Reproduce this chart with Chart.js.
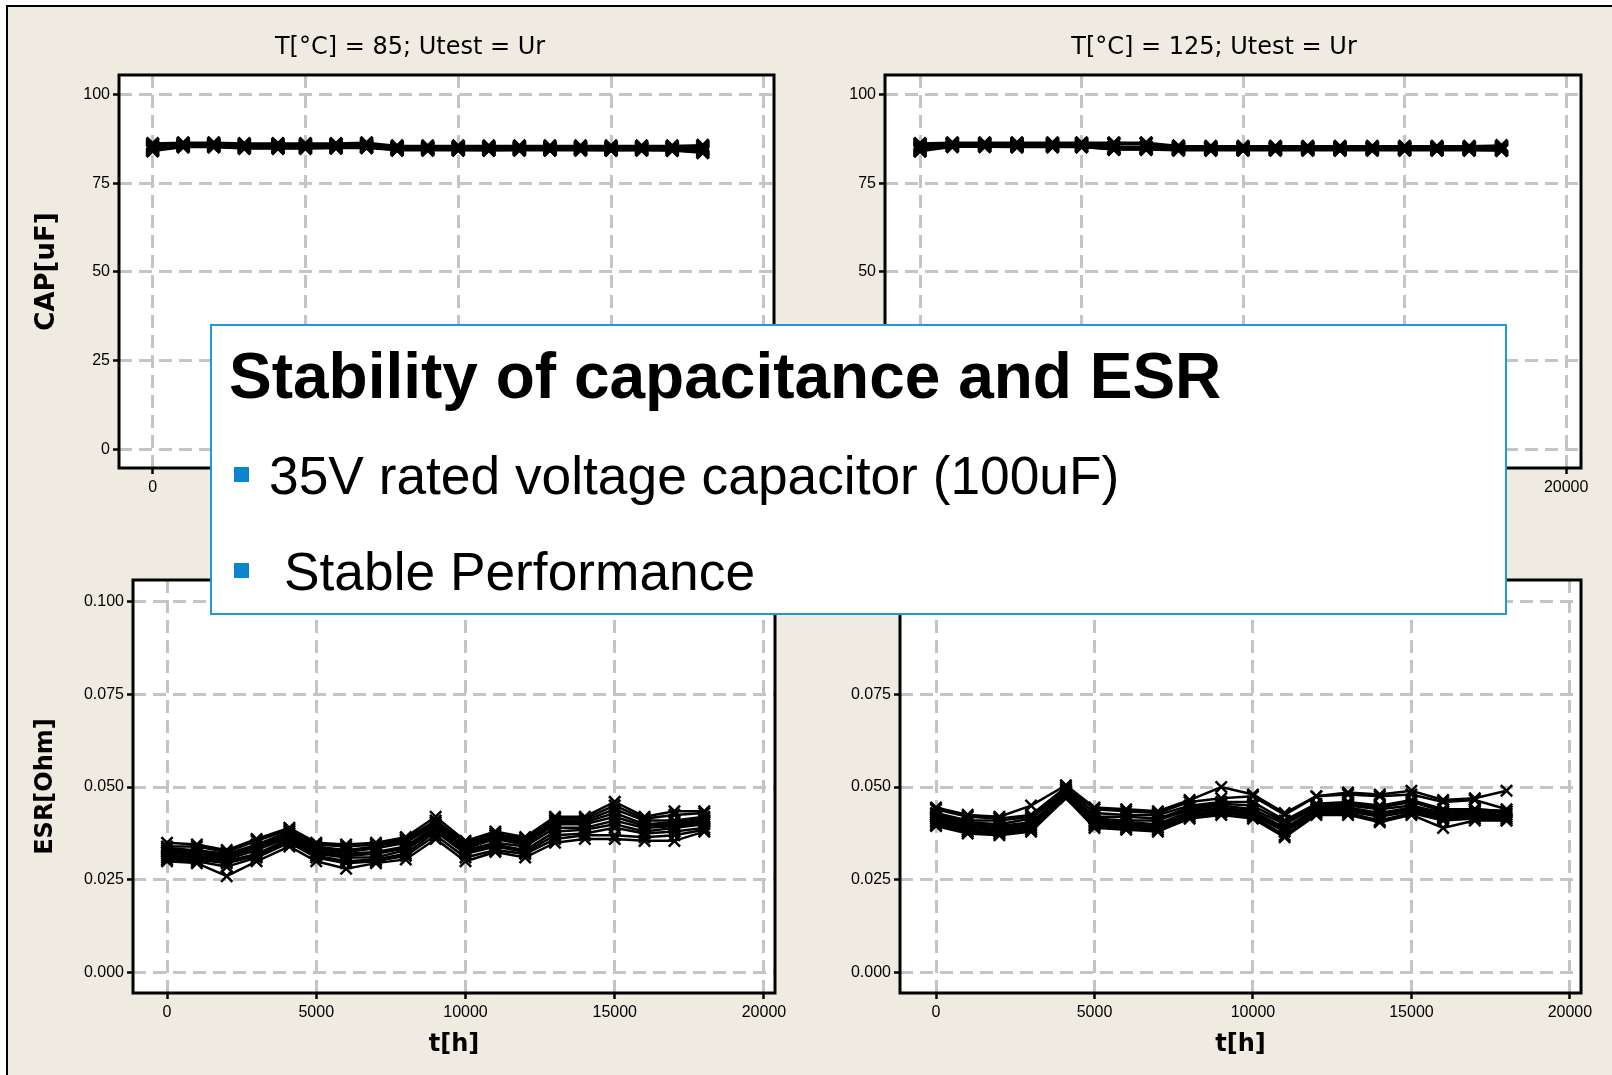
<!DOCTYPE html>
<html>
<head>
<meta charset="utf-8">
<script src="https://cdn.jsdelivr.net/npm/chart.js@4.4.1/dist/chart.umd.min.js"></script>
<style>
  html, body { margin: 0; padding: 0; background: #fff; }
  body { width: 1612px; height: 1075px; position: relative; overflow: hidden; }
  #slide { position: absolute; left: 6px; top: 5px; right: 0; bottom: 0; background: #efebe1;
           border-top: 2px solid #000; border-left: 2px solid #000; }
  canvas { position: absolute; }
  #capLeft { left: 20px; top: 20px; }
  #capRight { left: 820px; top: 20px; }
  #esrLeft { left: 20px; top: 560px; }
  #esrRight { left: 820px; top: 560px; }
  .note { position: absolute; left: 210px; top: 324px; width: 1297px; height: 291px; box-sizing: border-box;
          background: #fff; border: 2px solid #1f9ad6; font-family: "Liberation Sans", Arial, sans-serif; color: #000; }
  .note div { position: absolute; white-space: nowrap; }
  .note .head { left: 17px; top: 18px; font-size: 64px; line-height: 64px; font-weight: bold; }
  .note .line { font-size: 53.3px; line-height: 53px; }
  .note .dot { width: 15px; height: 15px; background: #0a86cc; left: 22px; }
</style>
</head>
<body>
<div id="slide"></div>
<canvas id="capLeft" width="780" height="490"></canvas>
<canvas id="capRight" width="788" height="490"></canvas>
<canvas id="esrLeft" width="780" height="510"></canvas>
<canvas id="esrRight" width="788" height="510"></canvas>

<div class="note">
  <div class="head">Stability of capacitance and ESR</div>
  <div class="dot" style="top:141px"></div>
  <div class="line" style="left:57px; top:123px">35V rated voltage capacitor (100uF)</div>
  <div class="dot" style="top:237px"></div>
  <div class="line" style="left:72px; top:219px">Stable Performance</div>
</div>

<script>
// test time in hours, same for every sample
const hours = [0, 1000, 2000, 3000, 4100, 5000, 6000, 7000, 8000, 9000, 10000, 11000, 12000, 13000, 14000, 15000, 16000, 17000, 18000];

const timeTicks = [0, 5000, 10000, 15000, 20000];
const capTicks = [0, 25, 50, 75, 100];
const esrTicks = [0, 0.025, 0.05, 0.075, 0.1];

// capacitance [uF], T = 85 C
const cap85 = [
    [86.2, 86.4, 86.4, 86.2, 86.2, 86.2, 86.2, 86.4, 85.5, 85.5, 85.5, 85.5, 85.5, 85.5, 85.5, 85.5, 85.5, 85.5, 85.7],
    [85.9, 86.1, 86.1, 85.9, 86.0, 85.9, 85.9, 86.1, 85.3, 85.2, 85.3, 85.2, 85.3, 85.2, 85.3, 85.2, 85.2, 85.3, 85.3],
    [85.6, 86.0, 86.0, 85.7, 85.8, 85.7, 85.8, 85.9, 85.1, 85.1, 85.1, 85.1, 85.1, 85.1, 85.1, 85.1, 85.1, 85.1, 85.1],
    [85.3, 85.9, 85.9, 85.6, 85.6, 85.6, 85.6, 85.7, 85.0, 84.9, 85.0, 84.9, 85.0, 84.9, 84.9, 85.0, 84.9, 84.9, 84.9],
    [85.1, 85.8, 85.8, 85.5, 85.5, 85.5, 85.5, 85.6, 84.9, 84.9, 84.9, 84.9, 84.9, 84.9, 84.9, 84.9, 84.9, 84.9, 84.7],
    [84.9, 85.7, 85.7, 85.3, 85.4, 85.4, 85.4, 85.5, 84.8, 84.8, 84.8, 84.8, 84.8, 84.8, 84.8, 84.8, 84.8, 84.8, 84.5],
    [84.7, 85.6, 85.6, 85.2, 85.2, 85.2, 85.3, 85.4, 84.7, 84.7, 84.7, 84.7, 84.7, 84.7, 84.7, 84.7, 84.7, 84.7, 84.3],
    [84.5, 85.4, 85.4, 85.0, 85.0, 85.0, 85.1, 85.2, 84.5, 84.5, 84.5, 84.5, 84.5, 84.6, 84.5, 84.5, 84.5, 84.5, 84.1],
    [84.3, 85.3, 85.3, 84.9, 84.9, 84.9, 85.0, 85.1, 84.4, 84.4, 84.4, 84.3, 84.4, 84.4, 84.4, 84.3, 84.4, 84.3, 83.8],
    [84.1, 85.2, 85.2, 84.8, 84.8, 84.8, 84.9, 85.0, 84.3, 84.3, 84.3, 84.3, 84.3, 84.3, 84.3, 84.3, 84.3, 84.2, 83.6]
];

// capacitance [uF], T = 125 C
const cap125 = [
    [86.2, 86.4, 86.4, 86.4, 86.4, 86.4, 86.4, 86.4, 85.5, 85.4, 85.4, 85.4, 85.4, 85.4, 85.4, 85.4, 85.4, 85.4, 85.6],
    [85.9, 86.2, 86.2, 86.2, 86.2, 86.2, 86.1, 86.2, 85.3, 85.2, 85.2, 85.2, 85.2, 85.2, 85.2, 85.2, 85.2, 85.2, 85.3],
    [85.7, 86.1, 86.1, 86.1, 86.1, 86.1, 86.0, 86.1, 85.1, 85.1, 85.1, 85.1, 85.1, 85.1, 85.1, 85.1, 85.1, 85.1, 85.2],
    [85.4, 86.0, 86.0, 85.9, 85.9, 85.9, 85.3, 85.3, 85.0, 84.9, 85.0, 84.9, 85.0, 84.9, 85.0, 84.9, 84.9, 85.0, 85.0],
    [85.2, 85.9, 85.9, 85.8, 85.8, 85.8, 85.1, 85.1, 84.9, 84.9, 84.9, 84.9, 84.9, 84.9, 84.9, 84.9, 84.9, 84.9, 84.9],
    [85.0, 85.8, 85.8, 85.7, 85.7, 85.7, 85.0, 85.0, 84.8, 84.8, 84.8, 84.8, 84.8, 84.8, 84.8, 84.8, 84.8, 84.8, 84.8],
    [84.8, 85.7, 85.7, 85.6, 85.6, 85.6, 84.9, 84.9, 84.7, 84.7, 84.7, 84.7, 84.7, 84.7, 84.7, 84.7, 84.7, 84.7, 84.6],
    [84.5, 85.5, 85.5, 85.4, 85.4, 85.4, 84.7, 84.7, 84.5, 84.5, 84.5, 84.5, 84.5, 84.5, 84.5, 84.5, 84.5, 84.5, 84.4],
    [84.3, 85.4, 85.4, 85.3, 85.3, 85.3, 84.6, 84.6, 84.4, 84.4, 84.4, 84.4, 84.4, 84.4, 84.4, 84.4, 84.4, 84.4, 84.3],
    [84.0, 85.3, 85.3, 85.2, 85.2, 85.2, 84.5, 84.5, 84.3, 84.3, 84.3, 84.3, 84.3, 84.3, 84.3, 84.3, 84.3, 84.3, 84.2]
];

// ESR [Ohm], T = 85 C
const esr85 = [
    [0.0350, 0.0345, 0.0330, 0.0360, 0.0390, 0.0350, 0.0345, 0.0350, 0.0365, 0.0420, 0.0355, 0.0380, 0.0365, 0.0420, 0.0420, 0.0460, 0.0420, 0.0435, 0.0435],
    [0.0340, 0.0340, 0.0325, 0.0355, 0.0385, 0.0345, 0.0340, 0.0345, 0.0360, 0.0410, 0.0350, 0.0375, 0.0360, 0.0415, 0.0415, 0.0450, 0.0415, 0.0425, 0.0430],
    [0.0335, 0.0330, 0.0320, 0.0345, 0.0380, 0.0340, 0.0330, 0.0340, 0.0355, 0.0405, 0.0345, 0.0370, 0.0355, 0.0410, 0.0410, 0.0440, 0.0410, 0.0410, 0.0420],
    [0.0330, 0.0325, 0.0315, 0.0340, 0.0375, 0.0335, 0.0325, 0.0335, 0.0350, 0.0400, 0.0340, 0.0365, 0.0350, 0.0405, 0.0405, 0.0430, 0.0400, 0.0405, 0.0415],
    [0.0325, 0.0320, 0.0310, 0.0335, 0.0370, 0.0330, 0.0320, 0.0325, 0.0340, 0.0395, 0.0335, 0.0360, 0.0345, 0.0400, 0.0400, 0.0420, 0.0395, 0.0400, 0.0410],
    [0.0320, 0.0315, 0.0305, 0.0330, 0.0365, 0.0325, 0.0315, 0.0320, 0.0335, 0.0390, 0.0330, 0.0350, 0.0340, 0.0390, 0.0390, 0.0410, 0.0390, 0.0395, 0.0405],
    [0.0315, 0.0310, 0.0300, 0.0320, 0.0360, 0.0320, 0.0310, 0.0310, 0.0330, 0.0385, 0.0325, 0.0345, 0.0330, 0.0380, 0.0385, 0.0400, 0.0380, 0.0390, 0.0400],
    [0.0310, 0.0305, 0.0295, 0.0315, 0.0355, 0.0315, 0.0300, 0.0305, 0.0320, 0.0380, 0.0320, 0.0340, 0.0325, 0.0370, 0.0375, 0.0390, 0.0375, 0.0380, 0.0390],
    [0.0305, 0.0300, 0.0285, 0.0310, 0.0350, 0.0310, 0.0295, 0.0300, 0.0315, 0.0370, 0.0310, 0.0330, 0.0320, 0.0360, 0.0370, 0.0370, 0.0365, 0.0370, 0.0385],
    [0.0300, 0.0295, 0.0260, 0.0300, 0.0340, 0.0300, 0.0280, 0.0295, 0.0305, 0.0360, 0.0300, 0.0325, 0.0310, 0.0350, 0.0360, 0.0360, 0.0355, 0.0355, 0.0380]
];

// ESR [Ohm], T = 125 C
const esr125 = [
    [0.0445, 0.0425, 0.0420, 0.0450, 0.0505, 0.0445, 0.0440, 0.0435, 0.0465, 0.0500, 0.0480, 0.0430, 0.0475, 0.0485, 0.0480, 0.0490, 0.0465, 0.0470, 0.0490],
    [0.0440, 0.0420, 0.0415, 0.0425, 0.0500, 0.0440, 0.0435, 0.0430, 0.0460, 0.0470, 0.0475, 0.0425, 0.0475, 0.0480, 0.0475, 0.0480, 0.0460, 0.0465, 0.0440],
    [0.0430, 0.0410, 0.0410, 0.0420, 0.0495, 0.0430, 0.0425, 0.0425, 0.0450, 0.0460, 0.0460, 0.0410, 0.0455, 0.0460, 0.0450, 0.0465, 0.0440, 0.0440, 0.0435],
    [0.0425, 0.0405, 0.0400, 0.0415, 0.0490, 0.0420, 0.0420, 0.0415, 0.0445, 0.0455, 0.0450, 0.0405, 0.0450, 0.0455, 0.0445, 0.0460, 0.0435, 0.0440, 0.0435],
    [0.0420, 0.0400, 0.0395, 0.0405, 0.0485, 0.0415, 0.0410, 0.0410, 0.0440, 0.0450, 0.0440, 0.0400, 0.0445, 0.0450, 0.0440, 0.0450, 0.0430, 0.0435, 0.0430],
    [0.0415, 0.0395, 0.0390, 0.0400, 0.0485, 0.0410, 0.0405, 0.0400, 0.0435, 0.0445, 0.0435, 0.0390, 0.0440, 0.0445, 0.0430, 0.0445, 0.0425, 0.0430, 0.0425],
    [0.0410, 0.0390, 0.0385, 0.0395, 0.0480, 0.0405, 0.0400, 0.0395, 0.0430, 0.0440, 0.0430, 0.0385, 0.0435, 0.0440, 0.0425, 0.0440, 0.0420, 0.0425, 0.0420],
    [0.0405, 0.0385, 0.0380, 0.0390, 0.0480, 0.0400, 0.0395, 0.0390, 0.0425, 0.0435, 0.0425, 0.0380, 0.0430, 0.0435, 0.0420, 0.0435, 0.0415, 0.0420, 0.0415],
    [0.0400, 0.0380, 0.0375, 0.0385, 0.0475, 0.0395, 0.0390, 0.0385, 0.0420, 0.0430, 0.0420, 0.0370, 0.0430, 0.0430, 0.0410, 0.0430, 0.0410, 0.0415, 0.0410],
    [0.0395, 0.0375, 0.0370, 0.0380, 0.0470, 0.0390, 0.0385, 0.0380, 0.0415, 0.0425, 0.0415, 0.0365, 0.0425, 0.0425, 0.0405, 0.0425, 0.0390, 0.0410, 0.0410]
];

Chart.defaults.font.family = "'Liberation Sans', Arial, sans-serif";
Chart.defaults.font.size = 16;
Chart.defaults.color = "#000";

// white plot area + black frame round it
const framePlugin = {
    id: "frame",
    beforeDraw(chart) {
        const { ctx, chartArea: a } = chart;
        ctx.save();
        ctx.fillStyle = "#fff";
        ctx.fillRect(a.left, a.top, a.right - a.left, a.bottom - a.top);
        ctx.restore();
    },
    afterDraw(chart) {
        const { ctx, chartArea: a } = chart;
        ctx.save();
        ctx.strokeStyle = "#000";
        ctx.lineWidth = 3;
        ctx.strokeRect(a.left, a.top, a.right - a.left, a.bottom - a.top);
        ctx.restore();
    }
};

const gridOpts = { color: "#c4c4c4", lineWidth: 3, tickColor: "#000", tickLength: 6, tickWidth: 2.5 };
const borderOpts = { display: false, dash: [13, 7] };
const axisTitleFont = { family: "'DejaVu Sans'", size: 24, weight: "bold" };

const makeChart = (canvasId, cfg) => {
    const datasets = cfg.series.map(vals => ({
        data: hours.map((h, i) => ({ x: h, y: vals[i] })),
        borderColor: "#000",
        borderWidth: 2.5,
        pointStyle: "crossRot",
        pointRadius: cfg.markSize,
        pointBorderWidth: cfg.markWidth,
        pointBorderColor: "#000",
        fill: false,
        tension: 0
    }));
    return new Chart(document.getElementById(canvasId), {
        type: "line",
        data: { datasets },
        options: {
            responsive: false,
            animation: false,
            events: [],
            layout: { padding: { top: cfg.padTop || 0 } },
            plugins: {
                legend: { display: false },
                tooltip: { enabled: false },
                title: {
                    display: !!cfg.title,
                    text: cfg.title,
                    color: "#000",
                    font: { family: "'DejaVu Sans'", size: 24, weight: "normal" },
                    padding: { top: 13.6, bottom: 12.6 }
                }
            },
            scales: {
                x: {
                    type: "linear",
                    min: cfg.xMin,
                    max: cfg.xMax,
                    afterBuildTicks: s => { s.ticks = timeTicks.map(v => ({ value: v })); },
                    afterFit: s => { s.height = cfg.xHeight; },
                    grid: gridOpts,
                    border: borderOpts,
                    ticks: { padding: 4, maxRotation: 0, callback: v => String(v) },
                    title: {
                        display: !!cfg.xTitle,
                        text: cfg.xTitle,
                        font: axisTitleFont,
                        padding: { top: 0, bottom: 10.5 }
                    }
                },
                y: {
                    min: cfg.yMin,
                    max: cfg.yMax,
                    afterBuildTicks: s => { s.ticks = cfg.yTicks.map(v => ({ value: v })); },
                    afterFit: s => { s.width = cfg.yWidth; },
                    grid: gridOpts,
                    border: borderOpts,
                    ticks: { padding: 3, callback: cfg.yFormat },
                    title: {
                        display: !!cfg.yTitle,
                        text: cfg.yTitle,
                        font: cfg.yTitleFont || axisTitleFont,
                        padding: { top: cfg.yTitlePad || 0, bottom: 0 }
                    }
                },
                // empty axis on the right that only keeps space free
                side: {
                    position: "right",
                    grid: { display: false, drawTicks: false },
                    border: { display: false },
                    ticks: { display: false },
                    afterFit: s => { s.width = cfg.rightGap; }
                }
            }
        },
        plugins: [framePlugin]
    });
};

makeChart("capLeft", {
    series: cap85, title: "T[°C] = 85; Utest = Ur", yTitle: "CAP[uF]", yTitlePad: 11.5,
    yTitleFont: { family: "'DejaVu Sans'", size: 26, weight: "bold" },
    xMin: -1100, xMax: 20330, yMin: -5.3, yMax: 105.5, yTicks: capTicks, yFormat: v => String(v),
    yWidth: 99, xHeight: 42, rightGap: 26, markSize: 8.5, markWidth: 3
});
makeChart("capRight", {
    series: cap125, title: "T[°C] = 125; Utest = Ur",
    xMin: -1085, xMax: 20460, yMin: -5.3, yMax: 105.5, yTicks: capTicks, yFormat: v => String(v),
    yWidth: 65, xHeight: 42, rightGap: 27, markSize: 8.5, markWidth: 3
});
makeChart("esrLeft", {
    series: esr85, yTitle: "ESR[Ohm]", yTitlePad: 11.6, xTitle: "t[h]", padTop: 20,
    xMin: -1140, xMax: 20370, yMin: -0.0055, yMax: 0.1058, yTicks: esrTicks, yFormat: v => v.toFixed(3),
    yWidth: 113, xHeight: 77, rightGap: 25, markSize: 8, markWidth: 2.5
});
makeChart("esrRight", {
    series: esr125, xTitle: "t[h]", padTop: 20,
    xMin: -1136, xMax: 20350, yMin: -0.0055, yMax: 0.1058, yTicks: esrTicks, yFormat: v => v.toFixed(3),
    yWidth: 80, xHeight: 77, rightGap: 27, markSize: 8, markWidth: 2.5
});
</script>
</body>
</html>
